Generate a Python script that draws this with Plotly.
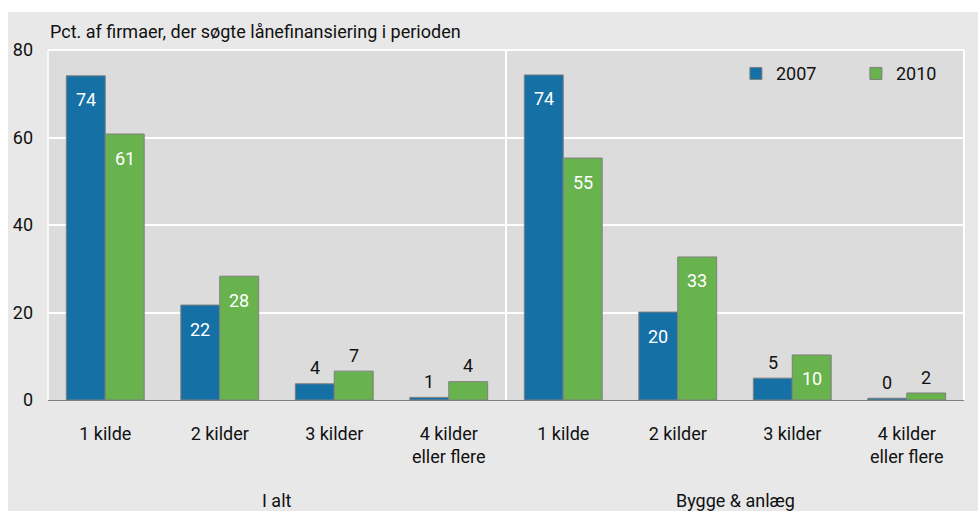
import plotly.graph_objects as go

categories = ["1 kilde", "2 kilder", "3 kilder", "4 kilder<br>eller flere",
              "1 kilde", "2 kilder", "3 kilder", "4 kilder<br>eller flere"]
groups = ["I alt", "Bygge & anlæg"]
series_2007 = [74.1, 21.7, 3.7, 0.6, 74.3, 20.1, 5.0, 0.4]
series_2010 = [60.8, 28.3, 6.6, 4.2, 55.3, 32.7, 10.3, 1.6]
y_ticks = [0, 20, 40, 60, 80]
title_text = "Pct. af firmaer, der søgte lånefinansiering i perioden"

BLUE = "#1570a6"
GREEN = "#69b34f"
FONT = "Roboto"
TXT = "#111111"
FS = 18

xs = list(range(len(categories)))

fig = go.Figure()
fig.add_bar(x=xs, y=series_2007, name="2007", marker=dict(color=BLUE, line=dict(color="#7f7f7f", width=1)))
fig.add_bar(x=xs, y=series_2010, name="2010", marker=dict(color=GREEN, line=dict(color="#7f7f7f", width=1)))

annotations = []
half = 0.17
for vals, off in ((series_2007, -half), (series_2010, half)):
    for i, v in enumerate(vals):
        inside = v > 9
        annotations.append(dict(
            x=i + off, y=v, xref="x", yref="y", text=f"{v:.0f}", showarrow=False,
            yshift=-24 if inside else 16, yanchor="middle",
            font=dict(family=FONT, size=FS, color="white" if inside else TXT)))

annotations.append(dict(x=0, y=1, xref="paper", yref="paper", xanchor="left", yanchor="bottom",
                        xshift=0, yshift=6, text=title_text, showarrow=False,
                        font=dict(family=FONT, size=FS, color=TXT)))
for gi, g in enumerate(groups):
    annotations.append(dict(x=gi * 4 + 1.5, y=0, xref="x", yref="paper", yanchor="middle",
                            yshift=-100, text=g, showarrow=False,
                            font=dict(family=FONT, size=FS, color=TXT)))

shapes = [
    dict(type="rect", xref="paper", yref="paper", x0=-0.0437, x1=1.02, y0=-0.32, y1=1.1086,
         fillcolor="#e8e8e8", line=dict(width=0), layer="below"),
    dict(type="rect", xref="paper", yref="paper", x0=0, x1=1, y0=0, y1=1,
         fillcolor="#dcdcdc", line=dict(width=0), layer="below"),
    dict(type="line", xref="paper", yref="paper", x0=0, x1=1, y0=1, y1=1, line=dict(color="white", width=2),
         layer="below"),
    dict(type="line", xref="paper", yref="paper", x0=1, x1=1, y0=0, y1=1, line=dict(color="white", width=2),
         layer="below"),
    dict(type="line", xref="paper", yref="paper", x0=0, x1=0, y0=0, y1=1, line=dict(color="white", width=1.5),
         layer="below"),
    dict(type="line", xref="x", yref="paper", x0=3.5, x1=3.5, y0=0, y1=1, line=dict(color="white", width=2),
         layer="below"),
]

fig.update_layout(
    width=978, height=511,
    margin=dict(l=48, r=14, t=50, b=111, autoexpand=False),
    paper_bgcolor="white", plot_bgcolor="rgba(0,0,0,0)",
    barmode="group", bargap=0.32, bargroupgap=0,
    font=dict(family=FONT, size=FS, color=TXT),
    showlegend=True,
    legend=dict(orientation="h", x=0.751, y=0.985, xanchor="left", yanchor="top",
                bgcolor="rgba(0,0,0,0)", font=dict(family=FONT, size=FS, color=TXT),
                entrywidth=75, traceorder="normal"),
    annotations=annotations, shapes=shapes,
    xaxis=dict(tickmode="array", tickvals=xs, ticktext=categories, range=[-0.5, 7.5],
               showgrid=False, zeroline=False, showline=True, linecolor="#7f7f7f", linewidth=1,
               ticks="", ticklabelstandoff=17, tickfont=dict(family=FONT, size=FS, color=TXT)),
    yaxis=dict(range=[0, 80], tickvals=y_ticks, showgrid=True, gridcolor="white", gridwidth=1.5,
               zeroline=False, showline=False,
               ticks="", ticklabelstandoff=14, tickfont=dict(family=FONT, size=FS, color=TXT)),
)

fig.write_html("out.html", config={"displayModeBar": False},
               post_script="document.body.style.margin='0';document.body.style.overflow='hidden';")
